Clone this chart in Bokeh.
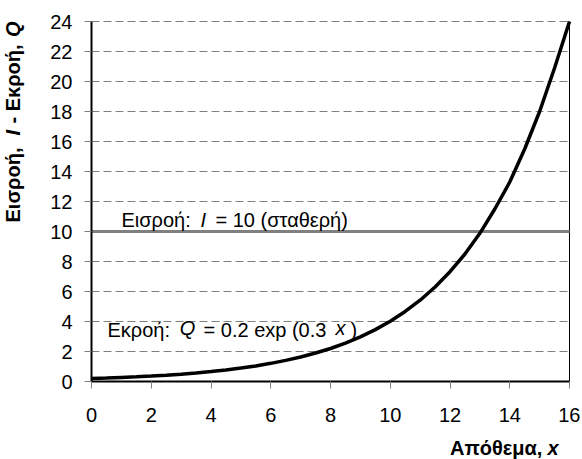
import math
from bokeh.plotting import figure
from bokeh.models import Label, FixedTicker, Range1d
from bokeh.embed import file_html
from bokeh.resources import INLINE

# ---- data ----
stock_x = [0, 0.5, 1, 1.5, 2, 2.5, 3, 3.5, 4, 4.5, 5, 5.5, 6, 6.5, 7, 7.5, 8,
           8.5, 9, 9.5, 10, 10.5, 11, 11.5, 12, 12.5, 13, 13.5, 14, 14.5, 15, 15.5, 16]
outflow_q = [0.20, 0.23, 0.27, 0.31, 0.36, 0.42, 0.49, 0.57, 0.66, 0.77, 0.90, 1.04,
             1.21, 1.41, 1.63, 1.90, 2.20, 2.56, 2.98, 3.46, 4.02, 4.67, 5.42, 6.30,
             7.32, 8.50, 9.88, 11.5, 13.3, 15.5, 18.0, 20.9, 24.0]
inflow_x = [0, 16]
inflow_i = [10, 10]
x_ticks = [0, 2, 4, 6, 8, 10, 12, 14, 16]
y_ticks = [0, 2, 4, 6, 8, 10, 12, 14, 16, 18, 20, 22, 24]

FONT = "Liberation Sans"
FS = "20px"

W, H = 580, 459
# plot area in canvas pixels: left 91, right 569, top 21, bottom 381
XPX = (569 - 91) / (x_ticks[-1] - x_ticks[0])
YPX = (381 - 21) / (y_ticks[-1] - y_ticks[0])
xr = Range1d(-91 / XPX, (W - 91) / XPX)
yr = Range1d(-(H - 381) / YPX, y_ticks[-1] + 21 / YPX)

p = figure(width=W, height=H, x_range=xr, y_range=yr,
           output_backend="svg", toolbar_location=None, min_border=0)
p.outline_line_color = None
p.background_fill_color = "white"
p.border_fill_color = "white"
p.xgrid.visible = False
p.ygrid.visible = False

# dashed horizontal gridlines
grid_y = y_ticks[1:]
p.segment(x0=[x_ticks[0]] * len(grid_y), y0=grid_y,
          x1=[x_ticks[-1]] * len(grid_y), y1=grid_y,
          line_color="#808080", line_dash="8 4", line_width=1)
# right border of the plot area
p.segment(x0=[x_ticks[-1]], y0=[y_ticks[0]], x1=[x_ticks[-1]], y1=[y_ticks[-1]],
          line_color="black", line_width=1)

p.line(inflow_x, inflow_i, line_color="#808080", line_width=3)
p.line(stock_x, outflow_q, line_color="black", line_width=3.5)

for ax, ticks, other in ((p.xaxis[0], x_ticks, y_ticks), (p.yaxis[0], y_ticks, x_ticks)):
    ax.ticker = FixedTicker(ticks=ticks)
    ax.fixed_location = other[0]
    ax.bounds = (ticks[0], ticks[-1])
    ax.axis_line_color = "black"
    ax.axis_line_width = 2
    ax.major_tick_in = 0
    ax.major_tick_out = 7
    ax.major_tick_line_color = "#808080"
    ax.major_tick_line_width = 1
    ax.minor_tick_line_color = None
    ax.major_label_text_font = FONT
    ax.major_label_text_font_size = FS
    ax.major_label_text_color = "black"
p.xaxis.major_label_standoff = 19
p.yaxis.major_label_standoff = 12

def lab(x, y, t, style="normal", angle=0.0, align="left", size=FS):
    p.add_layout(Label(x=x, y=y, text=t, text_font=FONT, text_font_size=size,
                       text_font_style=style, text_color="black", angle=angle,
                       text_align=align, text_baseline="alphabetic"))

# inflow annotation
lab(1.0, 10.8, "Εισροή:")
lab(3.65, 10.8, "I", "italic")
lab(4.15, 10.8, "= 10 (σταθερή)")

# outflow annotation
lab(0.535, 3.43, "Εκροή:")
lab(2.95, 3.57, "Q", "italic")
lab(3.75, 3.43, "= 0.2 exp (0.3")
lab(8.17, 3.57, "x", "italic")
lab(8.67, 3.43, ")")

# x axis title
lab(15.09, -4.45, "Απόθεμα,", "bold", align="right")
lab(15.26, -4.45, "x", "bold italic")

# y axis title (rotated)
ang = math.pi / 2
yx = -2.63
YS = "20px"
lab(yx, 10.6, "Εισροή,", "bold", ang, size=YS)
lab(yx, 16.4, "I", "bold italic", ang, size=YS)
lab(yx, 17.2, "- Εκροή,", "bold", ang, size=YS)
lab(yx, 22.97, "Q", "bold italic", ang, size=YS)

open("out.html", "w").write(file_html(p, INLINE))
